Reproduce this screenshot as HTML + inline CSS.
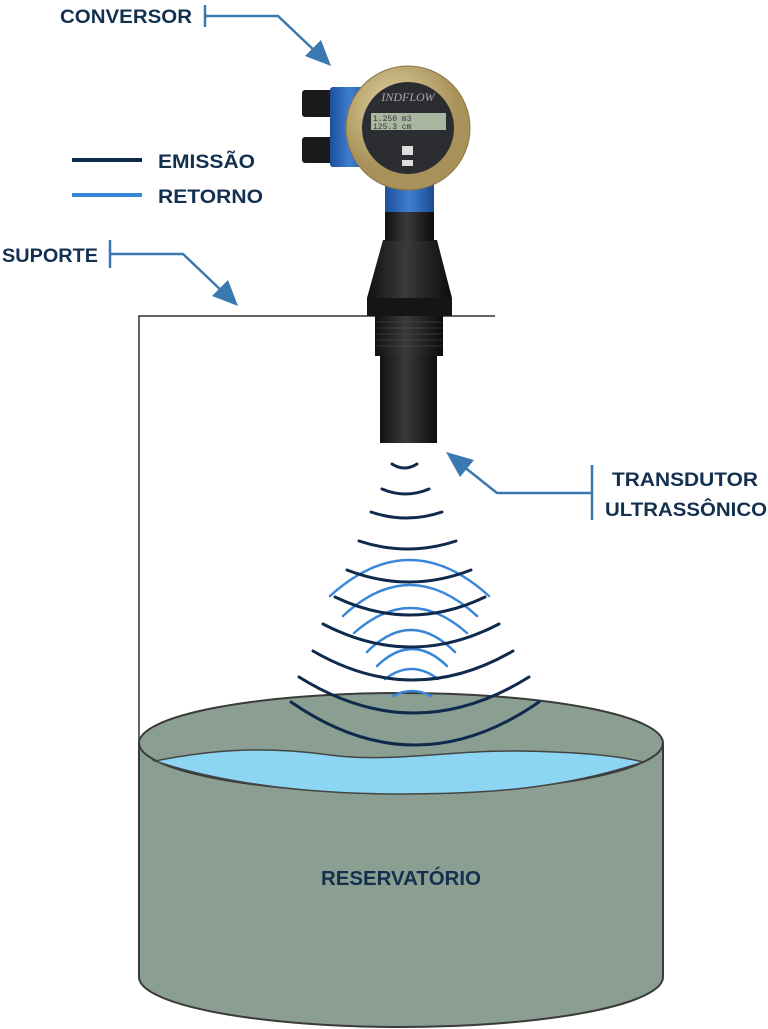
<!DOCTYPE html>
<html><head><meta charset="utf-8"><style>html,body{margin:0;padding:0;background:#fff}svg{display:block}</style></head>
<body>
<svg width="768" height="1029" viewBox="0 0 768 1029" xmlns="http://www.w3.org/2000/svg" font-family="Liberation Sans, sans-serif">
<defs>
<linearGradient id="blk" x1="0" x2="1"><stop offset="0" stop-color="#111"/><stop offset="0.45" stop-color="#3a3a3a"/><stop offset="1" stop-color="#0c0c0c"/></linearGradient>
<linearGradient id="blu" x1="0" x2="1"><stop offset="0" stop-color="#1d4f9a"/><stop offset="0.5" stop-color="#3f7fd0"/><stop offset="1" stop-color="#1a4a90"/></linearGradient>
<radialGradient id="gold" cx="0.4" cy="0.35"><stop offset="0" stop-color="#e6d8a8"/><stop offset="1" stop-color="#a8925a"/></radialGradient>
</defs>

<!-- support -->
<path d="M139 745 V316 H495" fill="none" stroke="#333" stroke-width="1.5"/>

<!-- tank -->
<path d="M139 743 V977 A262 50 0 0 0 663 977 V743 Z" fill="#8a9e91" stroke="#3a3a3a" stroke-width="2"/>
<ellipse cx="401" cy="743" rx="262" ry="50" fill="#8a9e91" stroke="#3a3a3a" stroke-width="2"/>
<path d="M155 761 C220 748 270 747 330 755 C390 763 450 750 520 751 C580 752 620 756 643 762 C560 790 480 794 401 794 C320 794 230 786 155 761 Z" fill="#8dd6f3" stroke="#444" stroke-width="1.5"/>
<text x="401" y="885" text-anchor="middle" font-size="20" font-weight="bold" fill="#14304f" textLength="160" lengthAdjust="spacingAndGlyphs">RESERVATÓRIO</text>

<!-- waves -->
<g fill="none" stroke-linecap="round">
<g stroke="#3a86d8" stroke-width="2.5">
<path d="M330 596 Q409.5 524 489 596"/>
<path d="M343 616 Q410 554 477 616"/>
<path d="M354 633 Q410.5 583 467 633"/>
<path d="M367 652 Q411 608 455 652"/>
<path d="M377 666 Q412 632 447 666"/>
<path d="M385 679 Q411.5 659 438 679"/>
<path d="M393 696 Q412 686 431 696"/>
</g>
<g stroke="#0e2a4c" stroke-width="3">
<path d="M392 464 Q404.5 472 417 464"/>
<path d="M382 489 Q405.5 499 429 489"/>
<path d="M371 512 Q406.5 524 442 512"/>
<path d="M359 541 Q407.5 557 456 541"/>
<path d="M347 570 Q409 594 471 570"/>
<path d="M335 597 Q410 633 485 597"/>
<path d="M323 624 Q411 670 499 624"/>
<path d="M313 651 Q413 709 513 651"/>
<path d="M299 677 Q414 749 529 677"/>
<path d="M291 702 Q415 788 539 702"/>
</g>
</g>

<!-- device -->
<rect x="380" y="355" width="57" height="88" fill="url(#blk)"/>
<rect x="375" y="316" width="68" height="40" fill="url(#blk)"/>
<g stroke="#555" stroke-width="0.6"><path d="M376 322H442M376 328H442M376 334H442M376 340H442M376 346H442"/></g>
<rect x="367" y="298" width="85" height="18" fill="#151515"/>
<path d="M383 240 H437 L452 298 H367 Z" fill="url(#blk)"/>
<rect x="385" y="210" width="49" height="31" fill="url(#blk)"/>
<rect x="385" y="176" width="49" height="36" fill="url(#blu)"/>
<rect x="302" y="90" width="32" height="27" rx="3" fill="#1a1a1a"/>
<rect x="302" y="137" width="32" height="26" rx="3" fill="#1a1a1a"/>
<rect x="330" y="87" width="40" height="80" rx="3" fill="url(#blu)"/>
<circle cx="408" cy="128" r="62" fill="url(#gold)" stroke="#8a7545" stroke-width="1"/>
<circle cx="408" cy="128" r="46" fill="#2b2d30"/>
<text x="408" y="101" text-anchor="middle" font-family="Liberation Serif, serif" font-style="italic" font-size="12" fill="#aaa">INDFLOW</text>
<rect x="371" y="113" width="75" height="17" fill="#a9b7a0"/>
<text x="373" y="121" font-family="Liberation Mono, monospace" font-size="8" fill="#333">1.250      m3</text>
<text x="373" y="129" font-family="Liberation Mono, monospace" font-size="8" fill="#333">125.3      cm</text>
<rect x="402" y="146" width="11" height="9" fill="#ddd"/>
<rect x="402" y="160" width="11" height="6" fill="#ddd"/>

<!-- labels -->
<g fill="#14304f" font-weight="bold" font-size="19">
<text x="60" y="23" textLength="132" lengthAdjust="spacingAndGlyphs">CONVERSOR</text>
<text x="158" y="168" textLength="97" lengthAdjust="spacingAndGlyphs">EMISSÃO</text>
<text x="158" y="203" textLength="105" lengthAdjust="spacingAndGlyphs">RETORNO</text>
<text x="2" y="262" textLength="96" lengthAdjust="spacingAndGlyphs">SUPORTE</text>
<text x="612" y="486" textLength="146" lengthAdjust="spacingAndGlyphs">TRANSDUTOR</text>
<text x="605" y="516" textLength="162" lengthAdjust="spacingAndGlyphs">ULTRASSÔNICO</text>
</g>
<line x1="72" y1="160" x2="142" y2="160" stroke="#0e2a4c" stroke-width="4"/>
<line x1="72" y1="195" x2="142" y2="195" stroke="#3a86d8" stroke-width="4"/>

<g stroke="#3a78b0" stroke-width="2.5" fill="none">
<path d="M205 5V27M205 16H278L318 54"/>
<path d="M110 240V268M110 254H183L224 293"/>
<path d="M592 465V520M592 493H497L458 462"/>
</g>
<g fill="#3a78b0">
<polygon points="331,66 305,56 321,40"/>
<polygon points="238,306 212,296 228,280"/>
<polygon points="446,452 474,460 460,477"/>
</g>
</svg>
</body></html>
